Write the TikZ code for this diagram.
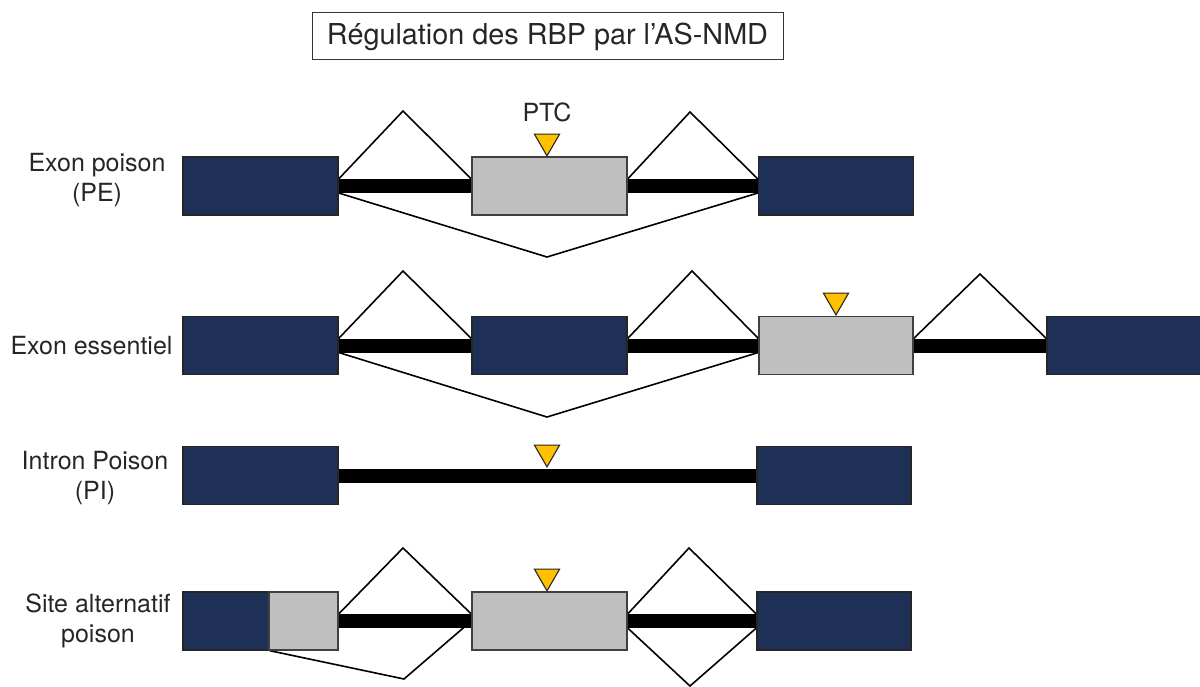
\documentclass[tikz,border=0pt]{standalone}
\usepackage{fontspec}
\setmainfont{TeX Gyre Heros}
\usetikzlibrary{shapes.geometric,calc,backgrounds}
\definecolor{navy}{HTML}{1F3057}
\definecolor{greybox}{HTML}{BFBFBF}
\definecolor{ptcfill}{HTML}{FFC000}
\definecolor{txt}{HTML}{262626}
\tikzset{
  exonbox/.style={draw=black!85, line width=1.3pt, fill=navy, inner sep=0pt, minimum height=58pt},
  greyexon/.style={draw=black!75, line width=1.3pt, fill=greybox, inner sep=0pt, minimum height=58pt},
  intronbar/.style={line width=14pt, black},
  splice/.style={line width=1.6pt, black, line join=miter},
  ptc/.style={regular polygon, regular polygon sides=3, shape border rotate=180, fill=ptcfill, draw=black!85, line width=1.1pt, inner sep=0pt, minimum size=29pt, anchor=corner 1},
  lbl/.style={align=center, text=txt, font=\fontsize{25}{30.5}\selectfont, inner sep=0pt},
  titlebox/.style={draw=black!80, line width=1pt, minimum width=471pt, minimum height=47pt, inner sep=0pt, text=txt, font=\fontsize{28.8}{34}\selectfont}
}
\begin{document}
\begin{tikzpicture}[x=1pt,y=-1pt]
\useasboundingbox (0,0) rectangle (1200,687);

% title
\node[titlebox] (title) at (547.5,36.5) {Régulation des RBP par l’AS-NMD};

% labels
\node[lbl] (l1) at (97,180) {Exon poison\\(PE)};
\node[lbl] (l2) at (91.5,345.5) {Exon essentiel};
\node[lbl] (l3) at (95,478) {Intron Poison\\(PI)};
\node[lbl] (l4) at (98,621) {Site alternatif\\poison};

% ---------------- Row 1 ----------------
\node[exonbox, minimum width=155pt] (r1a) at (260.5,186) {};
\node[greyexon, minimum width=155pt] (r1b) at (549.5,186) {};
\node[exonbox, minimum width=155pt] (r1c) at (836,186) {};
\coordinate (r1t1) at (403,111);
\coordinate (r1t2) at (690,112);
\coordinate (r1v) at (547,257);
\begin{scope}[on background layer]
\draw[intronbar] (r1a.east) -- (r1b.west);
\draw[intronbar] (r1b.east) -- (r1c.west);
\draw[splice] ($(r1a.east)+(0,-7)$) -- (r1t1) -- ($(r1b.west)+(0,-7)$);
\draw[splice] ($(r1b.east)+(0,-7)$) -- (r1t2) -- ($(r1c.west)+(0,-7)$);
\draw[splice] ($(r1a.east)+(0,7)$) -- (r1v) -- ($(r1c.west)+(0,7)$);
\end{scope}
\node[ptc] (p1) at (547,157) {};
\node[lbl] (ptclabel) at (547,112) {PTC};

% ---------------- Row 2 ----------------
\node[exonbox, minimum width=155pt] (r2a) at (260.5,345.5) {};
\node[exonbox, minimum width=155pt] (r2b) at (549.5,345.5) {};
\node[greyexon, minimum width=154pt] (r2c) at (836,345.5) {};
\node[exonbox, minimum width=155pt] (r2d) at (1124.5,345.5) {};
\coordinate (r2t1) at (403,271);
\coordinate (r2t2) at (692,271);
\coordinate (r2t3) at (980,274);
\coordinate (r2v) at (547,417);
\begin{scope}[on background layer]
\draw[intronbar] (r2a.east) -- (r2b.west);
\draw[intronbar] (r2b.east) -- (r2c.west);
\draw[intronbar] (r2c.east) -- (r2d.west);
\draw[splice] ($(r2a.east)+(0,-7)$) -- (r2t1) -- ($(r2b.west)+(0,-7)$);
\draw[splice] ($(r2b.east)+(0,-7)$) -- (r2t2) -- ($(r2c.west)+(0,-7)$);
\draw[splice] ($(r2c.east)+(0,-7)$) -- (r2t3) -- ($(r2d.west)+(0,-7)$);
\draw[splice] ($(r2a.east)+(0,7)$) -- (r2v) -- ($(r2c.west)+(0,7)$);
\end{scope}
\node[ptc] (p2) at (836,316) {};

% ---------------- Row 3 ----------------
\node[exonbox, minimum width=155pt] (r3a) at (260.5,475.5) {};
\node[exonbox, minimum width=154pt] (r3b) at (834,475.5) {};
\begin{scope}[on background layer]
\draw[intronbar] (r3a.east) -- (r3b.west);
\end{scope}
\node[ptc] (p3) at (547,468) {};

% ---------------- Row 4 ----------------
\node[exonbox, minimum width=86pt] (r4a) at (226,621) {};
\node[greyexon, minimum width=69pt] (r4b) at (303.5,621) {};
\node[greyexon, minimum width=155pt] (r4c) at (549.5,621) {};
\node[exonbox, minimum width=154pt] (r4d) at (834,621) {};
\coordinate (r4t1) at (403,548);
\coordinate (r4t2) at (689,548);
\coordinate (r4v1) at (404,679);
\coordinate (r4v2) at (690,686);
\begin{scope}[on background layer]
\draw[intronbar] (r4b.east) -- (r4c.west);
\draw[intronbar] (r4c.east) -- (r4d.west);
\draw[splice] ($(r4b.east)+(0,-7)$) -- (r4t1) -- ($(r4c.west)+(0,-7)$);
\draw[splice] ($(r4c.east)+(0,-7)$) -- (r4t2) -- ($(r4d.west)+(0,-7)$);
\draw[splice] (r4a.south east) -- (r4v1) -- (r4c.west);
\draw[splice] ($(r4c.east)+(0,7)$) -- (r4v2) -- ($(r4d.west)+(0,7)$);
\end{scope}
\node[ptc] (p4) at (547,592) {};
\end{tikzpicture}
\end{document}
